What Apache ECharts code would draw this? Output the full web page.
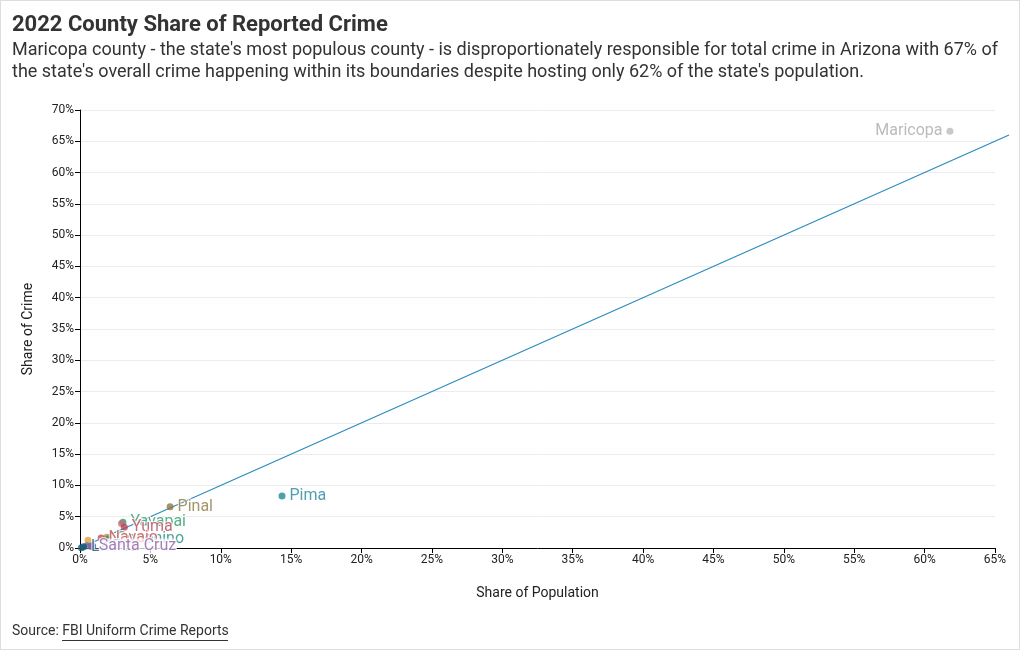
<!DOCTYPE html>
<html>
<head>
<meta charset="utf-8">
<script src="https://cdn.jsdelivr.net/npm/echarts@6/dist/echarts.min.js"></script>
<style>
  html, body { margin: 0; padding: 0; background: #fff; }
  #chart { width: 1018px; height: 648px; border: 1px solid #ddd; }
</style>
</head>
<body>
<div id="chart"></div>
<script>
// County data: share of population (%), share of crime (%)
const counties = ["Maricopa", "Pima", "Pinal", "Yavapai", "Mohave", "Yuma", "Cochise", "Coconino", "Navajo", "Gila", "Apache", "Graham", "La Paz", "Santa Cruz", "Greenlee"];
const popShare = [61.8, 14.35, 6.4, 3.05, 2.95, 3.15, 1.9, 2.05, 1.5, 0.57, 0.9, 0.5, 0.25, 0.8, 0.1];
const crimeShare = [66.6, 8.3, 6.6, 4.1, 3.9, 3.3, 1.7, 1.4, 1.6, 1.25, 0.3, 0.35, 0.2, 0.25, 0.05];
const showLabel = [true, true, true, true, false, true, false, true, true, false, false, false, true, true, false];
const colors = ["#bbbbbb", "#1f8a9e", "#8c7840", "#2e9a6a", "#c86b7c", "#b5495b", "#d08a3a", "#1a8f80", "#c0504d", "#e0a040", "#2a6f97", "#5a7a9a", "#1f4e79", "#8e5ea8", "#14607a"];
const labelColors = ["#aaaaaa", "#1f8a9e", "#8c7840", "#2e9a6a", "#c86b7c", "#b5495b", "#d08a3a", "#1a8f80", "#c0504d", "#e0a040", "#2a6f97", "#5a7a9a", "#1f4e79", "#8e5ea8", "#14607a"];
const xTicksMax = 65;
const yTicksMax = 70;
const refLine = [[0, 0], [66, 66]];

const chart = echarts.init(document.getElementById('chart'), null, { renderer: 'canvas' });

const points = counties.map((name, i) => ({
  name: name,
  value: [popShare[i], crimeShare[i]],
  itemStyle: { color: colors[i] },
  label: {
    show: showLabel[i],
    position: i === 0 ? 'left' : 'right',
    color: labelColors[i],
    distance: 4,
    backgroundColor: name === 'Santa Cruz' ? 'rgba(255,255,255,0.9)' : 'transparent'
  }
}));

const font = 'Roboto, "Noto Sans", sans-serif';

chart.setOption({
  animation: false,
  textStyle: { fontFamily: font },
  title: [
    {
      text: '2022 County Share of Reported Crime',
      left: 11, top: 13, padding: 0,
      textStyle: { fontSize: 22, fontWeight: 'bold', color: '#333', fontFamily: font }
    },
    {
      text: "Maricopa county - the state's most populous county - is disproportionately responsible for total crime in Arizona with 67% of\nthe state's overall crime happening within its boundaries despite hosting only 62% of the state's population.",
      left: 11, top: 38, padding: 0,
      textStyle: { fontSize: 18, fontWeight: 'normal', color: '#333', lineHeight: 22, fontFamily: font }
    },
    {
      text: 'Source: {link|FBI Uniform Crime Reports}',
      left: 11, top: 623, padding: 0,
      textStyle: {
        fontSize: 14, fontWeight: 'normal', color: '#333', fontFamily: font,
        rich: { link: { fontSize: 14, color: '#333', fontFamily: font } }
      }
    }
  ],
  graphic: [
    { type: 'rect', shape: { x: 61, y: 639, width: 166, height: 1 }, style: { fill: '#333' } }
  ],
  grid: [
    { left: 79, right: 24, top: 109, bottom: 101, containLabel: false },
    { left: 79, right: 10, top: 109, bottom: 101, containLabel: false }
  ],
  xAxis: [
    {
      type: 'value', gridIndex: 0,
      min: 0, max: xTicksMax, interval: 5,
      name: 'Share of Population',
      nameLocation: 'middle',
      nameGap: 38,
      nameTextStyle: { fontSize: 14, color: '#222' },
      axisLine: { show: true, lineStyle: { color: '#000', width: 1 } },
      axisTick: { show: true, length: 5, lineStyle: { color: '#000' } },
      axisLabel: { formatter: '{value}%', fontSize: 12, color: '#222', margin: 6 },
      splitLine: { show: false }
    },
    {
      type: 'value', gridIndex: 1, min: 0, max: 66, show: false
    }
  ],
  yAxis: [
    {
      type: 'value', gridIndex: 0,
      min: 0, max: yTicksMax, interval: 5,
      name: 'Share of Crime',
      nameLocation: 'middle',
      nameGap: 45,
      nameTextStyle: { fontSize: 14, color: '#222' },
      axisLine: { show: true, lineStyle: { color: '#000', width: 1 } },
      axisTick: { show: true, length: 5, lineStyle: { color: '#000' } },
      axisLabel: { formatter: '{value}%', fontSize: 12, color: '#222', margin: 6 },
      splitLine: { show: true, lineStyle: { color: '#ececec', width: 1 } }
    },
    {
      type: 'value', gridIndex: 1, min: 0, max: yTicksMax, show: false
    }
  ],
  series: [
    {
      type: 'line',
      xAxisIndex: 1, yAxisIndex: 1,
      data: refLine,
      clip: false,
      showSymbol: false,
      symbol: 'none',
      lineStyle: { color: '#2b8cbe', width: 1.2 },
      silent: true,
      z: 1
    },
    {
      type: 'scatter',
      xAxisIndex: 0, yAxisIndex: 0,
      data: points,
      symbolSize: 7,
      z: 3,
      label: {
        show: true,
        formatter: '{b}',
        fontSize: 16,
        fontFamily: font,
        textBorderColor: '#fff',
        textBorderWidth: 2
      },
      labelLayout: { hideOverlap: false }
    }
  ]
});
</script>
</body>
</html>
